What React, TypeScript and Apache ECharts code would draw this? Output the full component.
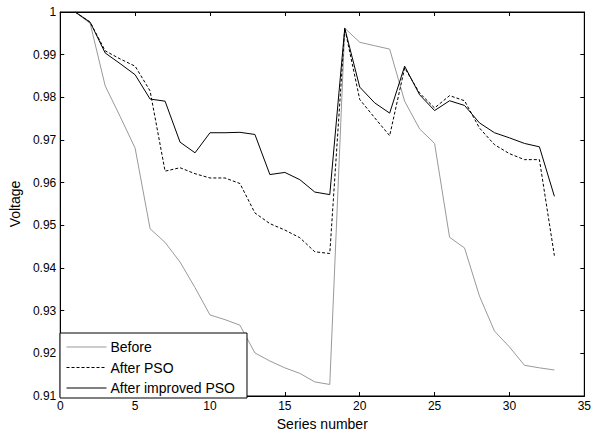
import React, { useEffect, useRef } from "react";
import * as echarts from "echarts";

const xs = [1,2,3,4,5,6,7,8,9,10,11,12,13,14,15,16,17,18,19,20,21,22,23,24,25,26,27,28,29,30,31,32,33];
const before = [1.0,0.9973,0.9827,0.9755,0.9681,0.9492,0.9460,0.9414,0.9354,0.9290,0.9279,0.9266,0.9201,0.9182,0.9166,0.9153,0.9133,0.9127,0.9962,0.9929,0.9921,0.9913,0.9791,0.9726,0.9692,0.9472,0.9447,0.9334,0.9252,0.9215,0.9172,0.9166,0.9161];
const afterPSO = [1.0,0.9976,0.9909,0.9890,0.9873,0.9815,0.9627,0.9635,0.9621,0.9611,0.9611,0.9598,0.9529,0.9504,0.9489,0.9471,0.9438,0.9434,0.9962,0.9795,0.9752,0.9710,0.9869,0.9810,0.9775,0.9804,0.9792,0.9728,0.9689,0.9668,0.9654,0.9654,0.9429];
const afterImproved = [1.0,0.9976,0.9904,0.9879,0.9853,0.9796,0.9791,0.9695,0.9670,0.9717,0.9717,0.9718,0.9713,0.9619,0.9624,0.9607,0.9578,0.9572,0.9962,0.9824,0.9787,0.9763,0.9873,0.9806,0.9769,0.9792,0.9781,0.9740,0.9717,0.9705,0.9692,0.9684,0.9568];
const seriesNames = ["Before", "After PSO", "After improved PSO"];

const pairs = (ys: number[]) => xs.map((x, i) => [x, ys[i]]);

export default function App() {
  const ref = useRef<HTMLDivElement>(null);
  useEffect(() => {
    if (!ref.current) return;
    const chart = echarts.init(ref.current, null, { renderer: "svg" });
    const font = "Arial, 'Liberation Sans', sans-serif";
    const axisCommon = {
      axisLine: { show: true, onZero: false, lineStyle: { color: "#000", width: 1 } },
      axisTick: { show: true, inside: true, length: 4, lineStyle: { color: "#000" } },
      splitLine: { show: false },
    };
    chart.setOption({
      animation: false,
      backgroundColor: "#fff",
      textStyle: { fontFamily: font },
      grid: { left: 60, right: 6, top: 12, bottom: 38, show: true, borderColor: "#000", borderWidth: 1, backgroundColor: "transparent" },
      legend: {
        left: 60,
        top: 333,
        orient: "vertical",
        data: seriesNames,
        backgroundColor: "#fff",
        borderColor: "#000",
        borderWidth: 1,
        borderRadius: 0,
        padding: [7, 12, 3, 6],
        itemGap: 6.5,
        itemWidth: 40,
        itemHeight: 14,
        itemStyle: { opacity: 0 },
        lineStyle: { width: 1 },
        textStyle: { fontSize: 14, color: "#000", fontFamily: font, padding: [0, 0, 0, -1] },
      },
      xAxis: [
        {
          type: "value", min: 0, max: 35, interval: 5, position: "bottom",
          ...axisCommon,
          axisLabel: { color: "#000", fontSize: 12, margin: 4, fontFamily: font },
          name: "Series number", nameLocation: "middle", nameGap: 21,
          nameTextStyle: { fontSize: 14, color: "#000", fontFamily: font },
        },
        {
          type: "value", min: 0, max: 35, interval: 5, position: "top",
          ...axisCommon,
          axisLabel: { show: false },
        },
      ],
      yAxis: [
        {
          type: "value", min: 0.91, max: 1, interval: 0.01, position: "left",
          ...axisCommon,
          axisLabel: {
            color: "#000", fontSize: 12, margin: 4, fontFamily: font,
            formatter: (v: number) => String(parseFloat(v.toFixed(2))),
          },
          name: "Voltage", nameLocation: "middle", nameGap: 37, nameRotate: 90,
          nameTextStyle: { fontSize: 14, color: "#000", fontFamily: font },
        },
        {
          type: "value", min: 0.91, max: 1, interval: 0.01, position: "right",
          ...axisCommon,
          axisLabel: { show: false },
        },
      ],
      series: [
        {
          name: seriesNames[0], type: "line", data: pairs(before), symbol: "none",
          lineStyle: { color: "#999", width: 1, type: "solid" },
          itemStyle: { color: "#999" },
        },
        {
          name: seriesNames[1], type: "line", data: pairs(afterPSO), symbol: "none",
          lineStyle: { color: "#000", width: 1, type: [3, 2] },
          itemStyle: { color: "#000" },
        },
        {
          name: seriesNames[2], type: "line", data: pairs(afterImproved), symbol: "none",
          lineStyle: { color: "#000", width: 1, type: "solid" },
          itemStyle: { color: "#000" },
        },
      ],
    });
    return () => chart.dispose();
  }, []);
  return <div ref={ref} style={{ width: 594, height: 436, position: "absolute", left: 0, top: 0 }} />;
}
